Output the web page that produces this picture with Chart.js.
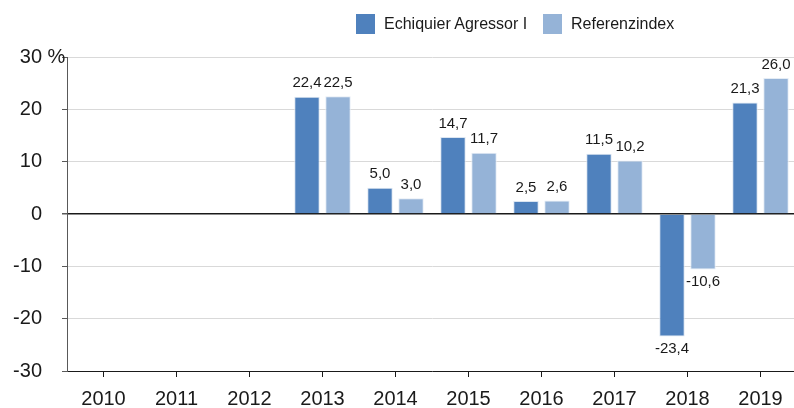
<!DOCTYPE html>
<html>
<head>
<meta charset="utf-8">
<script src="https://cdn.jsdelivr.net/npm/chart.js@4.4.1/dist/chart.umd.min.js"></script>
<style>
  html, body { margin: 0; padding: 0; background: #fff; overflow: hidden; }
  #wrap { position: relative; width: 800px; height: 408px; }
  #legend { position: absolute; top: 14px; left: 356px; font-family: "Liberation Sans", Arial, sans-serif; font-size: 16px; color: #1a1a1a; }
  .item { position: absolute; top: 0; white-space: nowrap; line-height: 20px; }
  .box { display: inline-block; width: 19px; height: 20px; vertical-align: top; margin-right: 9px; }
</style>
</head>
<body>
<div id="wrap">
  <canvas id="chart" width="800" height="408"></canvas>
  <div id="legend">
    <div class="item" style="left:0"><span class="box" style="background:#4f81bd"></span>Echiquier Agressor I</div>
    <div class="item" style="left:187px"><span class="box" style="background:#95b3d7"></span>Referenzindex</div>
  </div>
</div>
<script>
const years = ["2010", "2011", "2012", "2013", "2014", "2015", "2016", "2017", "2018", "2019"];
const fundValues = [null, null, null, 22.4, 5.0, 14.7, 2.5, 11.5, -23.4, 21.3];
const indexValues = [null, null, null, 22.5, 3.0, 11.7, 2.6, 10.2, -10.6, 26.0];
const seriesNames = ["Echiquier Agressor I", "Referenzindex"];
const yTicks = [-30, -20, -10, 0, 10, 20, 30];

const fontFamily = "'Liberation Sans', Arial, sans-serif";

function formatValue(v) {
  return v.toFixed(1).replace(".", ",");
}

// value labels above / below each bar
const valueLabels = {
  id: "valueLabels",
  afterDatasetsDraw(chart) {
    const ctx = chart.ctx;
    ctx.save();
    ctx.font = "15px " + fontFamily;
    ctx.fillStyle = "#1a1a1a";
    ctx.textAlign = "center";
    chart.data.datasets.forEach((ds, i) => {
      chart.getDatasetMeta(i).data.forEach((bar, j) => {
        const v = ds.data[j];
        if (v === null) return;
        if (v >= 0) {
          ctx.textBaseline = "bottom";
          ctx.fillText(formatValue(v), bar.x, bar.y - 6);
        } else {
          ctx.textBaseline = "top";
          ctx.fillText(formatValue(v), bar.x, bar.y + 5);
        }
      });
    });
    ctx.restore();
  }
};

// "%" after the top tick label
const percentSign = {
  id: "percentSign",
  afterDraw(chart) {
    const y = chart.scales.y;
    const ctx = chart.ctx;
    ctx.save();
    ctx.font = "20px " + fontFamily;
    ctx.fillStyle = "#1a1a1a";
    ctx.textAlign = "left";
    ctx.textBaseline = "middle";
    ctx.fillText(" %", 42, y.getPixelForValue(30));
    ctx.restore();
  }
};

new Chart(document.getElementById("chart"), {
  type: "bar",
  data: {
    labels: years,
    datasets: [
      {
        label: seriesNames[0],
        data: fundValues,
        backgroundColor: "#4f81bd",
        borderColor: "#dbe5f1",
        borderWidth: 1
      },
      {
        label: seriesNames[1],
        data: indexValues,
        backgroundColor: "#95b3d7",
        borderColor: "#e4ecf5",
        borderWidth: 1
      }
    ]
  },
  options: {
    responsive: false,
    animation: false,
    categoryPercentage: 0.85,
    barPercentage: 0.82,
    layout: { padding: { top: 57, right: 3, left: 0, bottom: 0 } },
    plugins: {
      legend: { display: false },
      tooltip: { enabled: false }
    },
    scales: {
      x: {
        afterFit: (scale) => { scale.height = 37; },
        grid: {
          offset: false,
          drawOnChartArea: false,
          drawTicks: true,
          tickLength: 6,
          tickColor: "#1a1a1a"
        },
        border: { color: "#1a1a1a", width: 1 },
        ticks: {
          padding: 10,
          color: "#1a1a1a",
          font: { family: fontFamily, size: 20 }
        }
      },
      y: {
        min: -30,
        max: 30,
        afterFit: (scale) => { scale.width = 67; },
        afterBuildTicks: (scale) => {
          scale.ticks = yTicks.map((v) => ({ value: v }));
        },
        grid: {
          color: (c) => (c.tick && c.tick.value === 0 ? "#1a1a1a" : "#d9d9d9"),
          lineWidth: (c) => (c.tick && c.tick.value === 0 ? 1.5 : 1),
          tickLength: 5,
          tickColor: "#595959"
        },
        border: { color: "#595959", width: 1 },
        ticks: {
          padding: 20,
          color: "#1a1a1a",
          font: { family: fontFamily, size: 20 },
          callback: (value) => String(value)
        }
      }
    }
  },
  plugins: [valueLabels, percentSign]
});
</script>
</body>
</html>
